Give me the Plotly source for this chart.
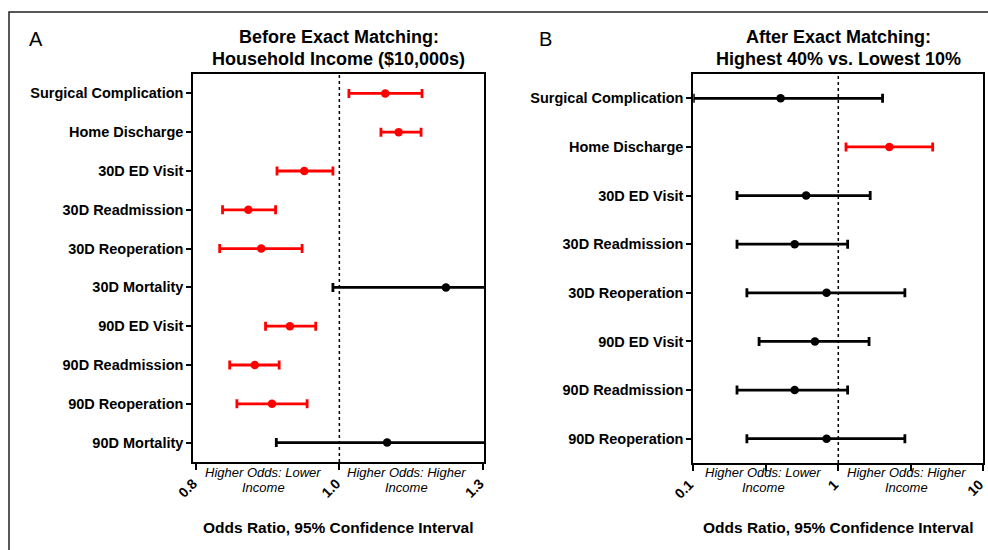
import numpy as np
import plotly.graph_objects as go

# ---------------- data ----------------
left_categories = ["Surgical Complication", "Home Discharge", "30D ED Visit", "30D Readmission",
                   "30D Reoperation", "30D Mortality", "90D ED Visit", "90D Readmission",
                   "90D Reoperation", "90D Mortality"]
left_or = [1.096, 1.124, 0.951, 0.873, 0.891, 1.223, 0.931, 0.882, 0.906, 1.100]
left_lo = [1.020, 1.087, 0.913, 0.837, 0.833, 0.991, 0.897, 0.847, 0.857, 0.912]
left_hi = [1.173, 1.171, 0.991, 0.911, 0.948, 1.450, 0.967, 0.916, 0.955, 1.400]

right_categories = ["Surgical Complication", "Home Discharge", "30D ED Visit", "30D Readmission",
                    "30D Reoperation", "90D ED Visit", "90D Readmission", "90D Reoperation"]
right_or = [0.40, 2.25, 0.60, 0.50, 0.83, 0.69, 0.50, 0.83]
right_lo = [0.10, 1.13, 0.20, 0.20, 0.234, 0.284, 0.20, 0.234]
right_hi = [2.02, 4.48, 1.66, 1.16, 2.88, 1.63, 1.16, 2.88]

left_tickvals = [0.8, 1.0, 1.3]
left_ticktext = ["0.8", "1.0", "1.3"]
right_tickvals = [0.1, 0.316, 1, 3.16, 10]
right_ticktext = ["0.1", "", "1", "", "10"]

W, H = 988, 550
FONT = "Liberation Sans, Arial, Helvetica, sans-serif"
RED = "#ff0000"
BLACK = "#000000"


def seg(v):
    """Segmented (two-part) axis used in panel A: 0.8-1.0 and 1.0-1.3 each take half."""
    v = np.asarray(v, dtype=float)
    return np.where(v < 1, (v - 1) / 0.2, (v - 1) / 0.3)


def px(x):
    return x / W


def py(y):
    return 1 - y / H


fig = go.Figure()


def add_panel(cats, orv, lo, hi, xa, ya, transform):
    orv, lo, hi = map(np.asarray, (orv, lo, hi))
    sig = (lo > 1) | (hi < 1)
    for mask, col in ((~sig, BLACK), (sig, RED)):
        if not mask.any():
            continue
        c = [cats[i] for i in np.where(mask)[0]]
        if transform:
            xp = seg(orv[mask])
            ep = seg(hi[mask]) - xp
            em = xp - seg(lo[mask])
        else:
            xp = orv[mask]
            ep = hi[mask] - orv[mask]
            em = orv[mask] - lo[mask]
        fig.add_trace(go.Scatter(
            x=xp, y=c, mode="markers", xaxis=xa, yaxis=ya,
            marker=dict(color=col, size=8.5),
            error_x=dict(type="data", symmetric=False, array=ep, arrayminus=em,
                         color=col, thickness=2.8, width=4.5),
            showlegend=False, hoverinfo="skip"))


add_panel(left_categories, left_or, left_lo, left_hi, "x", "y", True)
add_panel(right_categories, right_or, right_lo, right_hi, "x2", "y2", False)

axis_common = dict(showline=True, linewidth=2, linecolor=BLACK, mirror=True,
                   showgrid=False, zeroline=False, ticks="outside", tickwidth=2,
                   tickcolor=BLACK, automargin=False, ticklabeloverflow="allow")

fig.update_layout(
    width=W, height=H, margin=dict(l=0, r=0, t=0, b=0, pad=0, autoexpand=False),
    paper_bgcolor="white", plot_bgcolor="white", showlegend=False,
    font=dict(family=FONT, color=BLACK),
    xaxis=dict(domain=[px(193.3), px(484)], range=[-1.019, 1.009], anchor="y",
               tickvals=seg(left_tickvals).tolist(), ticktext=left_ticktext,
               tickangle=-45, ticklen=6, ticklabelshift=-3,
               tickfont=dict(size=14, family=FONT, weight="bold"), **axis_common),
    yaxis=dict(domain=[py(462), py(74)], anchor="x", type="category",
               categoryorder="array", categoryarray=left_categories,
               range=[len(left_categories) - 0.5, -0.5], ticklen=5,
               tickfont=dict(size=14.5, family=FONT, weight="bold"), **axis_common),
    xaxis2=dict(domain=[px(693.3), px(983.3)], type="log", range=[-1.0005, 1.0005], anchor="y2",
                tickvals=right_tickvals, ticktext=right_ticktext,
                tickangle=-45, ticklen=6, ticklabelshift=-4,
                tickfont=dict(size=14, family=FONT, weight="bold"), **axis_common),
    yaxis2=dict(domain=[py(463), py(74)], anchor="x2", type="category",
                categoryorder="array", categoryarray=right_categories,
                range=[len(right_categories) - 0.5, -0.5], ticklen=5,
                tickfont=dict(size=14.5, family=FONT, weight="bold"), **axis_common),
)

# reference lines at OR = 1
fig.add_shape(type="line", xref="x", yref="y domain", x0=float(seg(1.0)), x1=float(seg(1.0)),
              y0=0, y1=1, line=dict(color=BLACK, width=1.5, dash="dot"), layer="below")
fig.add_shape(type="line", xref="x2", yref="y2 domain", x0=1, x1=1,
              y0=0, y1=1, line=dict(color=BLACK, width=1.5, dash="dot"), layer="below")

# outer frame
fig.add_shape(type="rect", xref="paper", yref="paper", x0=px(9), x1=px(1005),
              y0=py(565), y1=py(12), line=dict(color="#222222", width=1.5))


def text(x, y, s, size, bold=False, italic=False):
    fig.add_annotation(x=px(x), y=py(y), xref="paper", yref="paper", text=s,
                       showarrow=False, xanchor="center", yanchor="middle",
                       font=dict(size=size, family=FONT, color=BLACK,
                                 weight="bold" if bold else "normal",
                                 style="italic" if italic else "normal"))


text(35.5, 39.5, "A", 20)
text(545, 39.5, "B", 20)
text(338.5, 37.5, "Before Exact Matching:", 18, bold=True)
text(338.5, 59.5, "Household Income ($10,000s)", 18, bold=True)
text(838.3, 37.5, "After Exact Matching:", 18, bold=True)
text(838.3, 59.5, "Highest 40% vs. Lowest 10%", 18, bold=True)

for cx in (263, 763):
    text(cx, 472.7, "Higher Odds: Lower", 13, italic=True)
    text(cx, 487.3, "Income", 13, italic=True)
for cx in (406, 906):
    text(cx, 472.7, "Higher Odds: Higher", 13, italic=True)
    text(cx, 487.3, "Income", 13, italic=True)

text(338, 527, "Odds Ratio, 95% Confidence Interval", 15.5, bold=True)
text(838, 527.5, "Odds Ratio, 95% Confidence Interval", 15.5, bold=True)

fig.write_html("out.html", config={"displayModeBar": False},
               post_script="document.body.style.margin='0';document.body.style.overflow='hidden';")
